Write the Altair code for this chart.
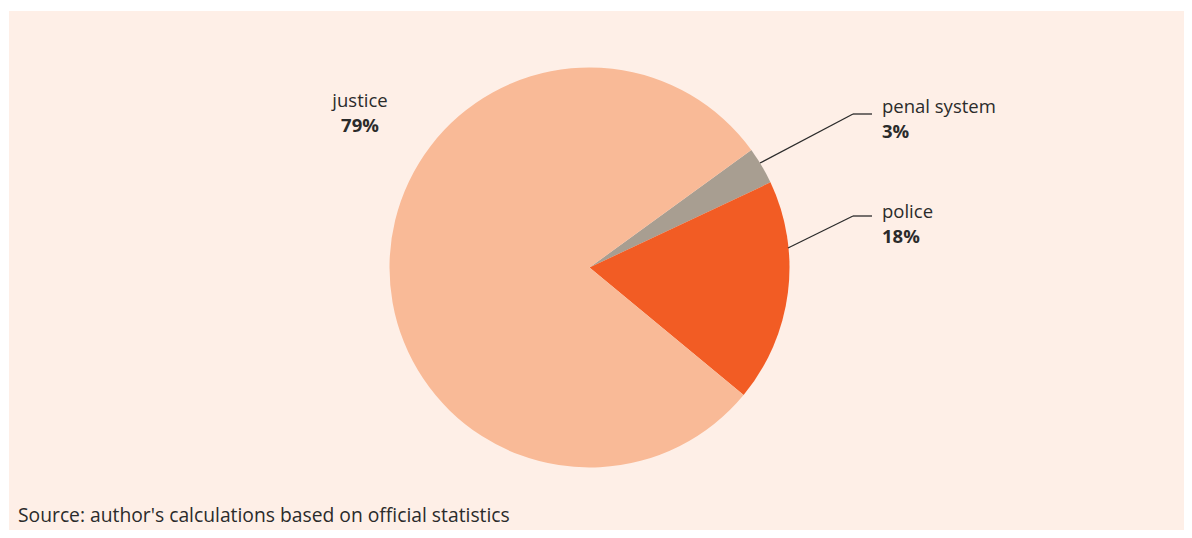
import math
import altair as alt
import pandas as pd

# ---- data ----
categories = ["penal system", "police", "justice"]
shares = [3, 18, 79]
colors = ["#A89E91", "#F25C24", "#F9BA97"]
source_note = "Source: author's calculations based on official statistics"

df = pd.DataFrame({"category": categories, "share": shares, "order": list(range(len(categories)))})
df["pct"] = df["share"].astype(str) + "%"

# ---- layout (style, not data) ----
BG = "#FEEFE7"
INK = "#2B2B2B"
FONT = "Open Sans"
CX, CY, R = 580.5, 256.5, 200
START = math.radians(54)

base = alt.Chart(df)

pie = base.mark_arc(radius=R, stroke=None).encode(
    theta=alt.Theta("share:Q", stack=True,
                    scale=alt.Scale(range=[START, START + 2 * math.pi])),
    color=alt.Color("category:N", scale=alt.Scale(domain=categories, range=colors), legend=None),
    order=alt.Order("order:Q"),
    x=alt.value(CX), y=alt.value(CY),
)

label_pos = {
    "justice": dict(x=351, y=96, align="center"),
    "penal system": dict(x=873, y=102, align="left"),
    "police": dict(x=873, y=207, align="left"),
}

layers = [pie]
for cat, p in label_pos.items():
    sub = base.transform_filter(alt.datum.category == cat)
    layers.append(sub.mark_text(align=p["align"], baseline="alphabetic", font=FONT,
                                fontSize=18.5, color=INK).encode(
        text="category:N", x=alt.value(p["x"]), y=alt.value(p["y"])))
    layers.append(sub.mark_text(align=p["align"], baseline="alphabetic", font=FONT,
                                fontSize=18.5, fontWeight="bold", color=INK).encode(
        text="pct:N", x=alt.value(p["x"]), y=alt.value(p["y"] + 25)))

leaders = {
    "penal system": [(751, 152), (844, 103), (863, 103)],
    "police": [(779, 237), (844, 205), (863, 205)],
}
for cat, pts in leaders.items():
    sub = base.transform_filter(alt.datum.category == cat)
    for (x1, y1), (x2, y2) in zip(pts[:-1], pts[1:]):
        layers.append(sub.mark_rule(color=INK, strokeWidth=1.3).encode(
            x=alt.value(x1), y=alt.value(y1), x2=alt.value(x2), y2=alt.value(y2)))

note = alt.Chart(pd.DataFrame({"t": [source_note]})).mark_text(
    align="left", baseline="alphabetic", font=FONT, fontSize=19.3, color=INK
).encode(text="t:N", x=alt.value(9), y=alt.value(511))
layers.append(note)

chart = alt.layer(*layers).properties(
    width=1176, height=522,
    autosize=alt.AutoSizeParams(type="fit", contains="padding"),
    padding={"left": 1, "top": 3, "right": 0, "bottom": 0},
    background="white",
).configure_view(fill=BG, stroke=None)

chart.save("out.html", embed_options={"renderer": "svg", "actions": False})
